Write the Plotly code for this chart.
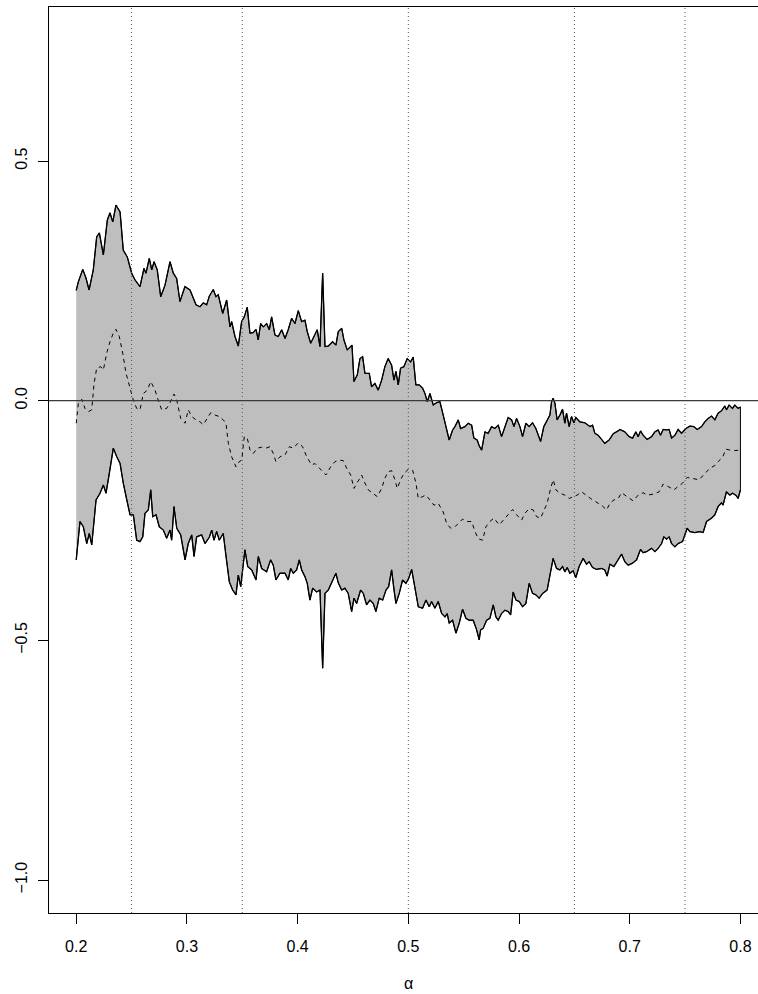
import plotly.graph_objects as go

# ---- data ----
upper_x = [0.2000,0.2019,0.2059,0.2088,0.2116,0.2154,0.2185,0.2209,0.2245,0.2281,0.2305,0.2330,0.2359,0.2396,0.2425,0.2461,0.2501,0.2531,0.2576,0.2612,0.2630,0.2660,0.2682,0.2703,0.2732,0.2763,0.2802,0.2847,0.2877,0.2907,0.2937,0.2982,0.3028,0.3082,0.3118,0.3148,0.3178,0.3202,0.3238,0.3262,0.3283,0.3323,0.3359,0.3389,0.3404,0.3434,0.3464,0.3494,0.3518,0.3545,0.3569,0.3599,0.3624,0.3644,0.3666,0.3690,0.3720,0.3744,0.3765,0.3795,0.3825,0.3856,0.3886,0.3915,0.3946,0.3976,0.4006,0.4036,0.4066,0.4087,0.4118,0.4147,0.4177,0.4202,0.4226,0.4247,0.4277,0.4316,0.4346,0.4367,0.4398,0.4418,0.4448,0.4479,0.4491,0.4509,0.4539,0.4563,0.4587,0.4608,0.4647,0.4668,0.4698,0.4728,0.4759,0.4788,0.4818,0.4849,0.4870,0.4888,0.4909,0.4930,0.4960,0.4990,0.5021,0.5044,0.5068,0.5098,0.5129,0.5150,0.5171,0.5195,0.5225,0.5256,0.5285,0.5315,0.5346,0.5369,0.5400,0.5421,0.5451,0.5472,0.5511,0.5541,0.5572,0.5592,0.5622,0.5640,0.5662,0.5692,0.5721,0.5752,0.5782,0.5812,0.5842,0.5872,0.5902,0.5933,0.5954,0.5978,0.6008,0.6032,0.6062,0.6092,0.6122,0.6152,0.6195,0.6224,0.6254,0.6279,0.6294,0.6308,0.6324,0.6344,0.6369,0.6393,0.6414,0.6429,0.6453,0.6474,0.6495,0.6513,0.6549,0.6595,0.6640,0.6664,0.6685,0.6715,0.6736,0.6775,0.6814,0.6850,0.6895,0.6911,0.6956,0.6995,0.7026,0.7055,0.7076,0.7098,0.7121,0.7157,0.7197,0.7227,0.7257,0.7278,0.7302,0.7333,0.7356,0.7378,0.7408,0.7437,0.7468,0.7507,0.7543,0.7579,0.7609,0.7649,0.7678,0.7708,0.7739,0.7769,0.7798,0.7829,0.7859,0.7874,0.7898,0.7928,0.7949,0.7979,0.8000]
upper_y = [0.230,0.248,0.274,0.256,0.231,0.273,0.342,0.350,0.304,0.377,0.392,0.373,0.408,0.394,0.314,0.300,0.266,0.252,0.238,0.276,0.266,0.297,0.273,0.290,0.273,0.217,0.241,0.290,0.266,0.255,0.207,0.238,0.231,0.200,0.196,0.204,0.200,0.218,0.232,0.217,0.221,0.182,0.210,0.154,0.165,0.134,0.114,0.165,0.175,0.195,0.141,0.142,0.149,0.127,0.161,0.154,0.161,0.148,0.175,0.137,0.134,0.148,0.130,0.148,0.172,0.161,0.188,0.165,0.168,0.144,0.120,0.134,0.148,0.113,0.266,0.113,0.114,0.123,0.116,0.144,0.151,0.127,0.106,0.113,0.116,0.040,0.054,0.088,0.092,0.057,0.057,0.029,0.036,0.022,0.043,0.071,0.088,0.074,0.043,0.061,0.033,0.068,0.071,0.088,0.081,0.091,0.033,0.033,0.026,0.015,-0.002,0.015,-0.009,-0.004,-0.002,-0.030,-0.061,-0.082,-0.061,-0.054,-0.040,-0.058,-0.054,-0.047,-0.051,-0.078,-0.082,-0.094,-0.103,-0.065,-0.068,-0.054,-0.058,-0.051,-0.075,-0.054,-0.035,-0.040,-0.054,-0.037,-0.054,-0.075,-0.047,-0.054,-0.046,-0.058,-0.085,-0.054,-0.040,-0.030,-0.002,0.005,-0.005,-0.040,-0.030,-0.018,-0.047,-0.026,-0.054,-0.033,-0.046,-0.035,-0.044,-0.046,-0.054,-0.051,-0.068,-0.072,-0.078,-0.089,-0.082,-0.069,-0.063,-0.060,-0.065,-0.075,-0.078,-0.065,-0.075,-0.063,-0.072,-0.081,-0.075,-0.065,-0.061,-0.072,-0.060,-0.061,-0.060,-0.078,-0.072,-0.060,-0.068,-0.058,-0.053,-0.054,-0.060,-0.054,-0.044,-0.037,-0.032,-0.040,-0.026,-0.021,-0.011,-0.019,-0.009,-0.016,-0.009,-0.016,-0.013]

lower_x = [0.2000,0.2034,0.2064,0.2095,0.2118,0.2140,0.2179,0.2215,0.2245,0.2269,0.2299,0.2335,0.2366,0.2396,0.2425,0.2456,0.2486,0.2516,0.2546,0.2576,0.2601,0.2621,0.2651,0.2673,0.2691,0.2721,0.2750,0.2787,0.2817,0.2847,0.2862,0.2883,0.2908,0.2944,0.2983,0.3012,0.3043,0.3064,0.3088,0.3133,0.3163,0.3202,0.3224,0.3244,0.3269,0.3292,0.3328,0.3353,0.3383,0.3413,0.3443,0.3464,0.3486,0.3524,0.3549,0.3585,0.3624,0.3645,0.3675,0.3720,0.3756,0.3780,0.3804,0.3840,0.3886,0.3915,0.3937,0.3961,0.3991,0.4015,0.4036,0.4066,0.4087,0.4111,0.4136,0.4172,0.4202,0.4226,0.4247,0.4277,0.4316,0.4346,0.4367,0.4398,0.4427,0.4457,0.4488,0.4509,0.4533,0.4569,0.4593,0.4623,0.4653,0.4683,0.4707,0.4737,0.4768,0.4798,0.4822,0.4849,0.4870,0.4888,0.4918,0.4948,0.4978,0.5003,0.5030,0.5060,0.5090,0.5129,0.5159,0.5189,0.5210,0.5240,0.5270,0.5301,0.5331,0.5351,0.5369,0.5400,0.5430,0.5460,0.5490,0.5520,0.5550,0.5586,0.5617,0.5640,0.5653,0.5676,0.5707,0.5737,0.5767,0.5791,0.5812,0.5842,0.5872,0.5902,0.5924,0.5947,0.5972,0.6002,0.6032,0.6062,0.6092,0.6122,0.6152,0.6182,0.6213,0.6254,0.6279,0.6308,0.6339,0.6369,0.6393,0.6414,0.6435,0.6459,0.6489,0.6513,0.6543,0.6579,0.6610,0.6634,0.6664,0.6700,0.6746,0.6775,0.6796,0.6821,0.6857,0.6896,0.6926,0.6956,0.6986,0.7026,0.7062,0.7098,0.7121,0.7152,0.7197,0.7227,0.7257,0.7288,0.7308,0.7333,0.7356,0.7378,0.7408,0.7437,0.7477,0.7498,0.7519,0.7543,0.7588,0.7633,0.7663,0.7694,0.7739,0.7769,0.7798,0.7829,0.7843,0.7874,0.7904,0.7928,0.7958,0.7979,0.8000]
lower_y = [-0.332,-0.252,-0.263,-0.298,-0.277,-0.301,-0.207,-0.193,-0.176,-0.193,-0.152,-0.099,-0.117,-0.131,-0.172,-0.207,-0.238,-0.238,-0.291,-0.294,-0.284,-0.235,-0.228,-0.186,-0.242,-0.238,-0.263,-0.270,-0.287,-0.270,-0.291,-0.221,-0.266,-0.280,-0.332,-0.298,-0.280,-0.325,-0.284,-0.280,-0.298,-0.285,-0.270,-0.291,-0.273,-0.291,-0.277,-0.325,-0.378,-0.395,-0.405,-0.364,-0.388,-0.311,-0.346,-0.353,-0.374,-0.325,-0.350,-0.357,-0.332,-0.343,-0.374,-0.360,-0.360,-0.374,-0.350,-0.360,-0.353,-0.332,-0.353,-0.367,-0.381,-0.416,-0.391,-0.399,-0.395,-0.558,-0.402,-0.395,-0.375,-0.360,-0.380,-0.395,-0.391,-0.402,-0.440,-0.412,-0.423,-0.395,-0.402,-0.426,-0.416,-0.423,-0.440,-0.412,-0.416,-0.395,-0.388,-0.353,-0.395,-0.423,-0.402,-0.374,-0.381,-0.371,-0.352,-0.391,-0.430,-0.433,-0.416,-0.430,-0.419,-0.433,-0.419,-0.444,-0.451,-0.444,-0.464,-0.458,-0.485,-0.464,-0.435,-0.454,-0.458,-0.458,-0.478,-0.499,-0.478,-0.475,-0.458,-0.454,-0.426,-0.451,-0.458,-0.444,-0.437,-0.440,-0.447,-0.399,-0.416,-0.419,-0.430,-0.423,-0.381,-0.402,-0.405,-0.412,-0.402,-0.395,-0.367,-0.329,-0.350,-0.353,-0.346,-0.357,-0.348,-0.360,-0.355,-0.369,-0.346,-0.329,-0.341,-0.336,-0.348,-0.352,-0.350,-0.353,-0.366,-0.341,-0.346,-0.332,-0.320,-0.336,-0.343,-0.339,-0.332,-0.310,-0.317,-0.315,-0.308,-0.315,-0.308,-0.298,-0.284,-0.289,-0.284,-0.298,-0.305,-0.298,-0.294,-0.280,-0.266,-0.273,-0.275,-0.273,-0.275,-0.252,-0.245,-0.238,-0.221,-0.213,-0.218,-0.190,-0.197,-0.193,-0.197,-0.204,-0.186]

mid_x = [0.2000,0.2019,0.2050,0.2079,0.2109,0.2140,0.2161,0.2185,0.2221,0.2245,0.2275,0.2305,0.2335,0.2359,0.2389,0.2420,0.2450,0.2480,0.2516,0.2546,0.2576,0.2606,0.2642,0.2673,0.2712,0.2741,0.2772,0.2817,0.2847,0.2883,0.2908,0.2944,0.2983,0.3012,0.3043,0.3082,0.3118,0.3148,0.3178,0.3215,0.3254,0.3292,0.3328,0.3353,0.3374,0.3404,0.3443,0.3473,0.3495,0.3518,0.3545,0.3570,0.3599,0.3636,0.3675,0.3714,0.3750,0.3780,0.3804,0.3840,0.3886,0.3925,0.3961,0.4006,0.4045,0.4082,0.4127,0.4157,0.4186,0.4226,0.4256,0.4298,0.4337,0.4376,0.4412,0.4443,0.4479,0.4509,0.4539,0.4578,0.4608,0.4638,0.4678,0.4719,0.4759,0.4788,0.4818,0.4849,0.4879,0.4900,0.4930,0.4960,0.4999,0.5039,0.5069,0.5090,0.5129,0.5159,0.5195,0.5231,0.5270,0.5315,0.5346,0.5382,0.5421,0.5451,0.5490,0.5527,0.5572,0.5601,0.5631,0.5671,0.5701,0.5737,0.5773,0.5821,0.5857,0.5902,0.5942,0.5978,0.6023,0.6053,0.6092,0.6128,0.6159,0.6195,0.6224,0.6254,0.6285,0.6309,0.6333,0.6369,0.6414,0.6453,0.6489,0.6525,0.6565,0.6604,0.6646,0.6694,0.6746,0.6791,0.6821,0.6857,0.6896,0.6926,0.6971,0.7031,0.7076,0.7121,0.7157,0.7212,0.7266,0.7302,0.7347,0.7399,0.7437,0.7477,0.7519,0.7567,0.7627,0.7678,0.7724,0.7778,0.7799,0.7839,0.7869,0.7904,0.7949,0.8000]
mid_y = [-0.047,-0.005,0.003,-0.016,-0.023,-0.019,0.036,0.068,0.071,0.064,0.099,0.123,0.141,0.149,0.134,0.099,0.057,0.029,0.001,-0.016,-0.019,0.015,0.022,0.040,0.022,0.001,-0.019,-0.016,-0.004,0.014,0.001,-0.037,-0.047,-0.019,-0.033,-0.040,-0.044,-0.050,-0.040,-0.025,-0.030,-0.033,-0.040,-0.047,-0.089,-0.117,-0.138,-0.127,-0.124,-0.075,-0.078,-0.103,-0.110,-0.099,-0.097,-0.099,-0.096,-0.110,-0.127,-0.117,-0.113,-0.096,-0.099,-0.088,-0.096,-0.117,-0.134,-0.131,-0.138,-0.148,-0.155,-0.138,-0.127,-0.124,-0.125,-0.141,-0.155,-0.183,-0.172,-0.155,-0.172,-0.186,-0.193,-0.200,-0.183,-0.162,-0.148,-0.146,-0.165,-0.183,-0.165,-0.152,-0.143,-0.145,-0.172,-0.204,-0.200,-0.197,-0.207,-0.218,-0.214,-0.232,-0.256,-0.266,-0.263,-0.256,-0.247,-0.252,-0.252,-0.272,-0.288,-0.291,-0.263,-0.252,-0.245,-0.259,-0.249,-0.238,-0.227,-0.238,-0.249,-0.235,-0.225,-0.228,-0.242,-0.245,-0.228,-0.214,-0.183,-0.165,-0.186,-0.193,-0.197,-0.204,-0.200,-0.197,-0.190,-0.197,-0.204,-0.211,-0.218,-0.228,-0.214,-0.207,-0.204,-0.192,-0.200,-0.209,-0.197,-0.192,-0.197,-0.195,-0.190,-0.174,-0.179,-0.186,-0.179,-0.172,-0.160,-0.162,-0.165,-0.152,-0.141,-0.134,-0.127,-0.118,-0.101,-0.103,-0.104,-0.103]

vlines_x = [0.25, 0.35, 0.5, 0.65, 0.75]
x_ticks = [0.2, 0.3, 0.4, 0.5, 0.6, 0.7, 0.8]
x_tick_labels = ["0.2", "0.3", "0.4", "0.5", "0.6", "0.7", "0.8"]
y_ticks = [-1.0, -0.5, 0.0, 0.5]
y_tick_labels = ["\u22121.0", "\u22120.5", "0.0", "0.5"]

FONT = "Liberation Sans, Arial, Helvetica, sans-serif"

fig = go.Figure()

# shaded band
fig.add_trace(go.Scatter(
    x=upper_x + lower_x[::-1], y=upper_y + lower_y[::-1],
    fill="toself", fillcolor="#BEBEBE", mode="lines",
    line=dict(color="black", width=1), hoverinfo="skip", showlegend=False))
fig.add_trace(go.Scatter(x=upper_x, y=upper_y, mode="lines",
                         line=dict(color="black", width=1.3), showlegend=False))
fig.add_trace(go.Scatter(x=lower_x, y=lower_y, mode="lines",
                         line=dict(color="black", width=1.3), showlegend=False))
fig.add_trace(go.Scatter(x=mid_x, y=mid_y, mode="lines",
                         line=dict(color="black", width=1, dash="4px,4px"), showlegend=False))

shapes = []
for vx in vlines_x:
    shapes.append(dict(type="line", xref="x", yref="paper", x0=vx, x1=vx, y0=0, y1=1,
                       line=dict(color="#555555", width=1, dash="1px,3px"), layer="above"))
shapes.append(dict(type="line", xref="paper", yref="y", x0=0, x1=1, y0=0, y1=0,
                   line=dict(color="#3a3a3a", width=1.2), layer="above"))

# The figure is a little wider than the window, like the reference whose
# right frame edge lies just outside the picture.
fig.update_layout(
    width=767, height=994,
    margin=dict(l=49, r=0, t=7, b=81),
    paper_bgcolor="white", plot_bgcolor="white",
    font=dict(family=FONT, size=16, color="black"),
    shapes=shapes,
    xaxis=dict(range=[0.1754, 0.824], tickvals=x_ticks, ticktext=x_tick_labels,
               ticks="outside", ticklen=10, tickwidth=1, tickcolor="black",
               showline=True, linecolor="black", linewidth=1, mirror=True,
               showgrid=False, zeroline=False, tickfont=dict(size=16),
               ticklabelstandoff=9),
    yaxis=dict(range=[-1.0688, 0.8214], tickvals=y_ticks, ticktext=y_tick_labels,
               ticks="outside", ticklen=10, tickwidth=1, tickcolor="black",
               showline=True, linecolor="black", linewidth=1, mirror=True,
               showgrid=False, zeroline=False, tickangle=-90, tickfont=dict(size=16),
               ticklabelstandoff=5),
    annotations=[dict(text="\u03b1", xref="x", yref="paper", x=0.5, y=0,
                      yanchor="middle", yshift=-70, showarrow=False,
                      font=dict(size=16, family=FONT))],
)

fig.write_html("out.html", config={"displayModeBar": False},
               post_script="document.documentElement.style.overflow='hidden';document.body.style.margin='0';document.body.style.overflow='hidden';")
